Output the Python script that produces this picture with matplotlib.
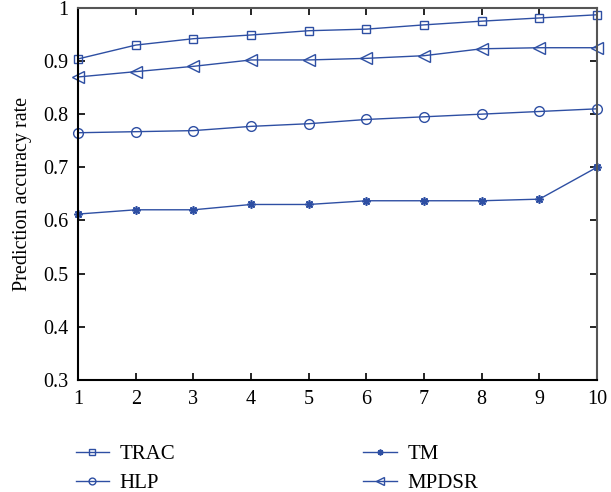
import matplotlib
matplotlib.use("Agg")
import matplotlib.pyplot as plt

plt.rcParams['font.family'] = ['Liberation Serif', 'DejaVu Serif']

x = [1, 2, 3, 4, 5, 6, 7, 8, 9, 10]
trac = [0.904, 0.930, 0.942, 0.949, 0.957, 0.960, 0.968, 0.975, 0.981, 0.987]
hlp = [0.765, 0.767, 0.769, 0.777, 0.782, 0.790, 0.795, 0.800, 0.805, 0.810]
tm = [0.612, 0.620, 0.620, 0.630, 0.630, 0.637, 0.637, 0.637, 0.640, 0.700]
mpdsr = [0.870, 0.880, 0.890, 0.902, 0.902, 0.905, 0.910, 0.923, 0.925, 0.925]

color = '#2E4FA3'
fig = plt.figure(figsize=(6.11, 4.92), dpi=100)
ax = fig.add_axes([0.128, 0.228, 0.849, 0.756])

kw = dict(color=color, lw=1.0, mfc='none', mew=1.0, clip_on=False)
l1, = ax.plot(x, trac, marker='s', ms=6, label='TRAC', **kw)
l2, = ax.plot(x, hlp, marker='o', ms=7, label='HLP', **kw)
l3, = ax.plot(x, tm, marker=(8, 2, 0), ms=6, label='TM', color=color, lw=1.0, mew=1.2, clip_on=False)
l4, = ax.plot(x, mpdsr, marker='<', ms=8, label='MPDSR', **kw)

ax.set_xlim(1, 10)
ax.set_ylim(0.3, 1.0)
ax.set_xticks(x)
ax.set_yticks([0.3, 0.4, 0.5, 0.6, 0.7, 0.8, 0.9, 1.0])
ax.set_yticklabels(['0.3', '0.4', '0.5', '0.6', '0.7', '0.8', '0.9', '1'])
ax.tick_params(direction='in', top=True, right=True, labelsize=14.5, length=5, width=1.2, pad=7)
for s in ['left', 'bottom']:
    ax.spines[s].set_linewidth(1.5)
    ax.spines[s].set_color('black')
for s in ['top', 'right']:
    ax.spines[s].set_linewidth(1.5)
    ax.spines[s].set_color('#555555')
ax.set_ylabel('Prediction accuracy rate', fontsize=14.5, labelpad=8)

fig.legend(handles=[l1, l2, l3, l4], loc='center left', bbox_to_anchor=(0.093, 0.047),
           ncol=2, frameon=False, fontsize=15, columnspacing=9.05, handlelength=1.6,
           handletextpad=0.5, labelspacing=0.45, markerscale=0.7)

fig.savefig('out.png', dpi=100)
